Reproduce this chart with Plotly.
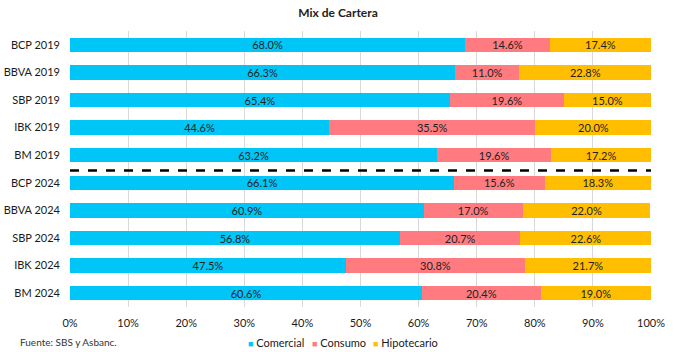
import plotly.graph_objects as go

categories = ["BCP 2019", "BBVA 2019", "SBP 2019", "IBK 2019", "BM 2019",
              "BCP 2024", "BBVA 2024", "SBP 2024", "IBK 2024", "BM 2024"]
comercial = [68.0, 66.3, 65.4, 44.6, 63.2, 66.1, 60.9, 56.8, 47.5, 60.6]
consumo = [14.6, 11.0, 19.6, 35.5, 19.6, 15.6, 17.0, 20.7, 30.8, 20.4]
hipotecario = [17.4, 22.8, 15.0, 20.0, 17.2, 18.3, 22.0, 22.6, 21.7, 19.0]
x_ticks = [0, 10, 20, 30, 40, 50, 60, 70, 80, 90, 100]

series = [("Comercial", comercial, "#00C6F7"),
          ("Consumo", consumo, "#FF7B7F"),
          ("Hipotecario", hipotecario, "#FFBF00")]

fig = go.Figure()
for name, vals, color in series:
    fig.add_trace(go.Bar(
        name=name, y=categories, x=vals, orientation="h",
        marker=dict(color=color, line=dict(width=0)),
        text=[f"{v:.1f}%" for v in vals], textposition="inside",
        insidetextanchor="middle",
        textfont=dict(color="#222222", size=11, family="Lato"),
        width=0.52, showlegend=False,
    ))

fig.add_shape(type="line", xref="paper", x0=0, x1=1, yref="y", y0=4.55, y1=4.55,
              line=dict(color="black", width=2.5, dash="dash"))

fig.update_layout(
    width=676, height=352, barmode="stack",
    margin=dict(l=70, r=25, t=31, b=45, autoexpand=False),
    paper_bgcolor="white", plot_bgcolor="white",
    font=dict(family="Lato", size=11, color="#1a1a1a"),
    title=dict(text="<b>Mix de Cartera</b>", x=0.5, xanchor="center", y=0.963, yanchor="middle",
               font=dict(size=12, color="#222222", family="Lato")),
    xaxis=dict(range=[0, 100], tickvals=x_ticks, ticktext=[f"{t}%" for t in x_ticks],
               showgrid=True, gridcolor="#D9D9D9", gridwidth=1, zeroline=False,
               showline=False, ticks="", ticklen=0, tickfont=dict(size=11),
               automargin=False, ticklabelstandoff=8),
    yaxis=dict(autorange="reversed", showgrid=False, ticks="", ticklen=0,
               tickfont=dict(size=11), automargin=False, ticklabelstandoff=9),
    showlegend=False,
    uniformtext=dict(minsize=8, mode="show"),
)

# legend drawn as text entries
legend_px = [246, 310, 371]
for (name, _, color), px in zip(series, legend_px):
    fig.add_annotation(text=f"<span style='color:{color};font-size:9px'>■</span> {name}",
                       xref="paper", yref="paper", x=(px - 70) / 581, y=-0.128,
                       xanchor="left", yanchor="middle", showarrow=False,
                       font=dict(size=11, color="#1a1a1a"))

fig.add_annotation(text="Fuente: SBS y Asbanc.", xref="paper", yref="paper",
                   x=-0.09, y=-0.128, xanchor="left", yanchor="middle", showarrow=False,
                   font=dict(size=10, color="#333333"))

fig.write_html("out.html")
